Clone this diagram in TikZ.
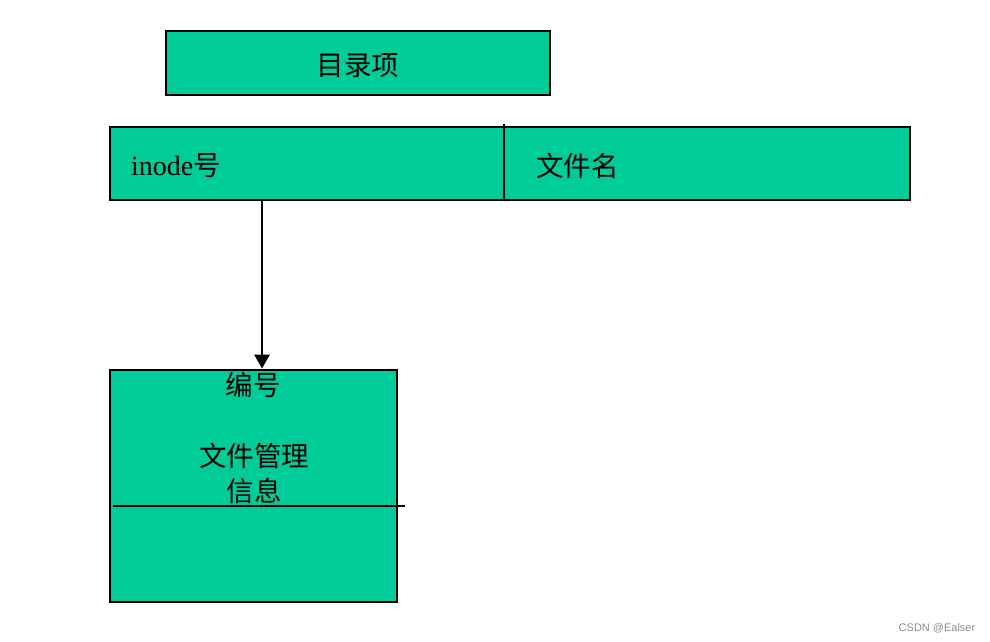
\documentclass[tikz,border=0pt]{standalone}
\usepackage{fontspec}
\setmainfont{Liberation Serif}
\newfontfamily\cjk{Noto Sans CJK SC}
\newfontfamily\wmfont{Liberation Sans}
\usetikzlibrary{arrows.meta}
\definecolor{boxgreen}{HTML}{00CC99}
\definecolor{wmgray}{HTML}{8C8C8C}
\tikzset{
  box/.style={draw=black, fill=boxgreen, line width=2.8pt, inner sep=0pt, rectangle},
  label/.style={inner sep=0pt, font=\cjk\fontsize{27.5}{35}\selectfont},
  conn/.style={line width=2.8pt, -{Triangle[length=14pt,width=15pt]}},
}
\begin{document}
\begin{tikzpicture}[x=1pt,y=-1pt]
\useasboundingbox (0,0) rectangle (990,642);
% top box
\node[box, minimum width=384pt, minimum height=64pt] (top) at (358,63) {};
\node[label] (toptext) at (358,66) {目录项};
% middle bar
\node[box, minimum width=394pt, minimum height=73pt] (left) at (307,163.5) {};
\node[box, minimum width=406pt, minimum height=73pt] (right) at (707,163.5) {};
\coordinate (divtop) at (504,124);
\draw[line width=2.8pt] (divtop) -- (504,200);
\node[inner sep=0pt, anchor=west] (inode) at (131,166) {\fontsize{28}{32}\selectfont inode{\cjk\fontsize{27.5}{32}\selectfont 号}};
\node[label, anchor=west] (fname) at (536,166) {文件名};
% bottom box
\node[box, minimum width=287pt, minimum height=232pt] (bottom) at (253.5,486) {};
\coordinate (divl) at (113,506);
\coordinate (divr) at (405,506);
\draw[line width=2.8pt] (divl) -- (divr);
\node[label] (num) at (253,385) {编号};
\node[label, align=center] (info) at (254,473.5) {文件管理\\信息};
% arrow
\draw[conn] (left.south -| 262,0) -- (bottom.north -| 262,0);
% watermark
\node[inner sep=0pt, text=wmgray, font=\wmfont\fontsize{11}{13}\selectfont] (wm) at (937,628) {CSDN @Ealser};
\end{tikzpicture}
\end{document}
